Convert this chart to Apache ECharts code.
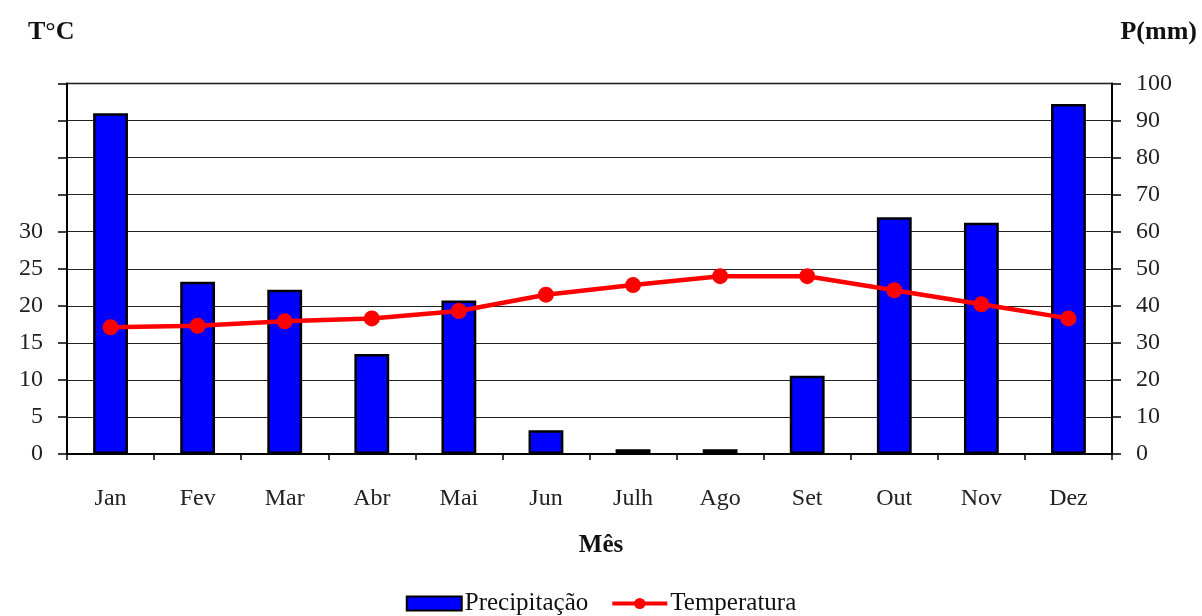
<!DOCTYPE html>
<html>
<head>
<meta charset="utf-8">
<script src="https://cdn.jsdelivr.net/npm/echarts@6/dist/echarts.min.js"></script>
<style>
  html, body { margin: 0; padding: 0; background: #fff; }
  #chart { width: 1202px; height: 616px; }
</style>
</head>
<body>
<div id="chart"></div>
<script>
// Monthly climate data
const months = ['Jan', 'Fev', 'Mar', 'Abr', 'Mai', 'Jun', 'Julh', 'Ago', 'Set', 'Out', 'Nov', 'Dez'];
const precipitacao = [92, 46.5, 44.3, 27, 41.4, 6.4, 1.3, 1.3, 21.1, 63.9, 62.4, 94.5];
const temperatura = [17.1, 17.3, 17.9, 18.3, 19.3, 21.5, 22.8, 24.0, 24.0, 22.1, 20.2, 18.3];
const tempLabelMax = 30;

const serif = '"Liberation Serif", "DejaVu Serif", serif';
const chart = echarts.init(document.getElementById('chart'));

chart.setOption({
  animation: false,
  textStyle: { fontFamily: serif },
  title: [
    { text: 'T°C', left: 23, top: 14,
      textStyle: { fontFamily: serif, fontSize: 26, fontWeight: 'bold', color: '#111' } },
    { text: 'P(mm)', right: 0, top: 14,
      textStyle: { fontFamily: serif, fontSize: 26, fontWeight: 'bold', color: '#111' } },
    { text: 'Mês', left: 'center', top: 528,
      textStyle: { fontFamily: serif, fontSize: 25, fontWeight: 'bold', color: '#111' } }
  ],
  legend: {
    top: 586,
    left: 'center',
    itemWidth: 55,
    itemHeight: 14,
    itemGap: 22,
    textStyle: { fontFamily: serif, fontSize: 25, color: '#111', padding: [0, 0, 0, -2] },
    data: [
      { name: 'Precipitação', icon: 'rect' },
      { name: 'Temperatura', lineStyle: { width: 4, color: '#FF0000' } }
    ]
  },
  grid: {
    left: 67, right: 90, top: 83.5, bottom: 162,
    show: true, borderColor: '#000', borderWidth: 1.5, backgroundColor: 'transparent'
  },
  xAxis: {
    type: 'category',
    data: months,
    boundaryGap: true,
    axisLine: { lineStyle: { color: '#000', width: 2 } },
    axisTick: { show: true, length: 6, lineStyle: { color: '#000', width: 1.5 } },
    axisLabel: { fontFamily: serif, fontSize: 24, color: '#222', margin: 33 }
  },
  yAxis: [
    {
      type: 'value', min: 0, max: 50, interval: 5,
      position: 'left',
      axisLine: { show: true, lineStyle: { color: '#000', width: 2 } },
      axisTick: { show: true, length: 9, lineStyle: { color: '#000', width: 1.5 } },
      axisLabel: {
        fontFamily: serif, fontSize: 24, color: '#222', margin: 24,
        formatter: v => (v <= tempLabelMax ? String(v) : '')
      },
      splitLine: { show: false }
    },
    {
      type: 'value', min: 0, max: 100, interval: 10,
      position: 'right',
      axisLine: { show: true, lineStyle: { color: '#000', width: 2 } },
      axisTick: { show: true, length: 9, lineStyle: { color: '#000', width: 1.5 } },
      axisLabel: { fontFamily: serif, fontSize: 24, color: '#222', margin: 24 },
      splitLine: { show: true, lineStyle: { color: '#222', width: 1.2 } }
    }
  ],
  series: [
    {
      name: 'Precipitação',
      type: 'bar',
      yAxisIndex: 1,
      data: precipitacao,
      barWidth: '40%',
      itemStyle: { color: '#0000FF', borderColor: '#000', borderWidth: 2.5 },
      z: 2
    },
    {
      name: 'Temperatura',
      type: 'line',
      yAxisIndex: 0,
      data: temperatura,
      symbol: 'circle',
      symbolSize: 16,
      lineStyle: { color: '#FF0000', width: 4.5 },
      itemStyle: { color: '#FF0000', borderWidth: 0 },
      z: 3
    }
  ]
});
</script>
</body>
</html>
